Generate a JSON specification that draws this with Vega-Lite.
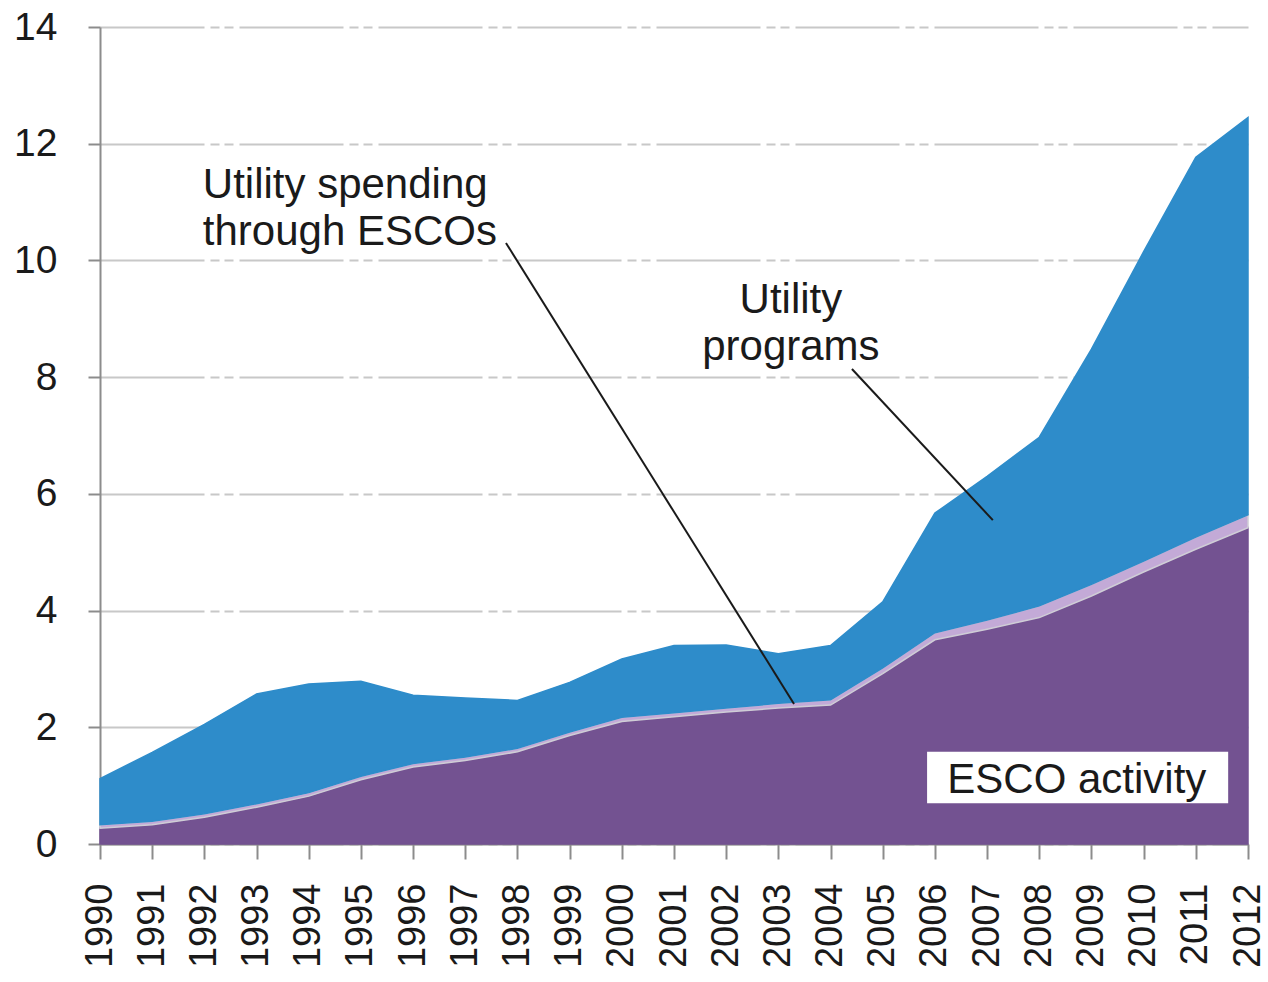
{
  "$schema": "https://vega.github.io/schema/vega-lite/v6.json",
  "width": 1148,
  "height": 817,
  "autosize": "none",
  "padding": {"left": 100, "top": 27, "right": 20, "bottom": 138},
  "background": "white",
  "config": {
    "view": {"stroke": null},
    "font": "Liberation Sans",
    "axis": {
      "labelFont": "Liberation Sans",
      "labelColor": "#1a1a1a",
      "tickColor": "#8c8c8c",
      "tickWidth": 2,
      "domainColor": "#8c8c8c",
      "domainWidth": 2,
      "labelFlush": false,
      "labelOverlap": false
    },
    "axisX": {"labelAngle": -90, "labelFontSize": 38, "tickSize": 15, "labelPadding": 24, "grid": false},
    "axisY": {"labelFontSize": 39, "tickSize": 12, "labelPadding": 31, "grid": true, "gridColor": "#c8c8c8", "gridWidth": 2, "gridDash": [104, 6, 9, 5, 9, 6]}
  },
  "datasets": {
    "series": [
      {"year": 1990, "series": "ESCO activity", "rank": 1, "value": 0.27},
      {"year": 1991, "series": "ESCO activity", "rank": 1, "value": 0.33},
      {"year": 1992, "series": "ESCO activity", "rank": 1, "value": 0.46},
      {"year": 1993, "series": "ESCO activity", "rank": 1, "value": 0.63},
      {"year": 1994, "series": "ESCO activity", "rank": 1, "value": 0.82},
      {"year": 1995, "series": "ESCO activity", "rank": 1, "value": 1.10},
      {"year": 1996, "series": "ESCO activity", "rank": 1, "value": 1.32},
      {"year": 1997, "series": "ESCO activity", "rank": 1, "value": 1.43},
      {"year": 1998, "series": "ESCO activity", "rank": 1, "value": 1.58},
      {"year": 1999, "series": "ESCO activity", "rank": 1, "value": 1.86},
      {"year": 2000, "series": "ESCO activity", "rank": 1, "value": 2.10},
      {"year": 2001, "series": "ESCO activity", "rank": 1, "value": 2.18},
      {"year": 2002, "series": "ESCO activity", "rank": 1, "value": 2.26},
      {"year": 2003, "series": "ESCO activity", "rank": 1, "value": 2.33},
      {"year": 2004, "series": "ESCO activity", "rank": 1, "value": 2.38},
      {"year": 2005, "series": "ESCO activity", "rank": 1, "value": 2.92},
      {"year": 2006, "series": "ESCO activity", "rank": 1, "value": 3.50},
      {"year": 2007, "series": "ESCO activity", "rank": 1, "value": 3.68},
      {"year": 2008, "series": "ESCO activity", "rank": 1, "value": 3.88},
      {"year": 2009, "series": "ESCO activity", "rank": 1, "value": 4.25},
      {"year": 2010, "series": "ESCO activity", "rank": 1, "value": 4.66},
      {"year": 2011, "series": "ESCO activity", "rank": 1, "value": 5.05},
      {"year": 2012, "series": "ESCO activity", "rank": 1, "value": 5.42},
      {"year": 1990, "series": "Utility spending through ESCOs", "rank": 2, "value": 0.06},
      {"year": 1991, "series": "Utility spending through ESCOs", "rank": 2, "value": 0.06},
      {"year": 1992, "series": "Utility spending through ESCOs", "rank": 2, "value": 0.06},
      {"year": 1993, "series": "Utility spending through ESCOs", "rank": 2, "value": 0.06},
      {"year": 1994, "series": "Utility spending through ESCOs", "rank": 2, "value": 0.06},
      {"year": 1995, "series": "Utility spending through ESCOs", "rank": 2, "value": 0.06},
      {"year": 1996, "series": "Utility spending through ESCOs", "rank": 2, "value": 0.06},
      {"year": 1997, "series": "Utility spending through ESCOs", "rank": 2, "value": 0.06},
      {"year": 1998, "series": "Utility spending through ESCOs", "rank": 2, "value": 0.06},
      {"year": 1999, "series": "Utility spending through ESCOs", "rank": 2, "value": 0.06},
      {"year": 2000, "series": "Utility spending through ESCOs", "rank": 2, "value": 0.07},
      {"year": 2001, "series": "Utility spending through ESCOs", "rank": 2, "value": 0.07},
      {"year": 2002, "series": "Utility spending through ESCOs", "rank": 2, "value": 0.07},
      {"year": 2003, "series": "Utility spending through ESCOs", "rank": 2, "value": 0.08},
      {"year": 2004, "series": "Utility spending through ESCOs", "rank": 2, "value": 0.09},
      {"year": 2005, "series": "Utility spending through ESCOs", "rank": 2, "value": 0.10},
      {"year": 2006, "series": "Utility spending through ESCOs", "rank": 2, "value": 0.12},
      {"year": 2007, "series": "Utility spending through ESCOs", "rank": 2, "value": 0.16},
      {"year": 2008, "series": "Utility spending through ESCOs", "rank": 2, "value": 0.20},
      {"year": 2009, "series": "Utility spending through ESCOs", "rank": 2, "value": 0.20},
      {"year": 2010, "series": "Utility spending through ESCOs", "rank": 2, "value": 0.19},
      {"year": 2011, "series": "Utility spending through ESCOs", "rank": 2, "value": 0.21},
      {"year": 2012, "series": "Utility spending through ESCOs", "rank": 2, "value": 0.22},
      {"year": 1990, "series": "Utility programs", "rank": 3, "value": 0.79},
      {"year": 1991, "series": "Utility programs", "rank": 3, "value": 1.18},
      {"year": 1992, "series": "Utility programs", "rank": 3, "value": 1.53},
      {"year": 1993, "series": "Utility programs", "rank": 3, "value": 1.88},
      {"year": 1994, "series": "Utility programs", "rank": 3, "value": 1.86},
      {"year": 1995, "series": "Utility programs", "rank": 3, "value": 1.63},
      {"year": 1996, "series": "Utility programs", "rank": 3, "value": 1.17},
      {"year": 1997, "series": "Utility programs", "rank": 3, "value": 1.01},
      {"year": 1998, "series": "Utility programs", "rank": 3, "value": 0.82},
      {"year": 1999, "series": "Utility programs", "rank": 3, "value": 0.85},
      {"year": 2000, "series": "Utility programs", "rank": 3, "value": 1.00},
      {"year": 2001, "series": "Utility programs", "rank": 3, "value": 1.15},
      {"year": 2002, "series": "Utility programs", "rank": 3, "value": 1.08},
      {"year": 2003, "series": "Utility programs", "rank": 3, "value": 0.85},
      {"year": 2004, "series": "Utility programs", "rank": 3, "value": 0.93},
      {"year": 2005, "series": "Utility programs", "rank": 3, "value": 1.13},
      {"year": 2006, "series": "Utility programs", "rank": 3, "value": 2.05},
      {"year": 2007, "series": "Utility programs", "rank": 3, "value": 2.46},
      {"year": 2008, "series": "Utility programs", "rank": 3, "value": 2.89},
      {"year": 2009, "series": "Utility programs", "rank": 3, "value": 4.03},
      {"year": 2010, "series": "Utility programs", "rank": 3, "value": 5.30},
      {"year": 2011, "series": "Utility programs", "rank": 3, "value": 6.51},
      {"year": 2012, "series": "Utility programs", "rank": 3, "value": 6.81}
    ],
    "leaders": [
      {"x1": 1997.78, "y1": 10.30, "x2": 2003.30, "y2": 2.40},
      {"x1": 2004.41, "y1": 8.14, "x2": 2007.11, "y2": 5.55}
    ],
    "box": [
      {"x1": 2005.85, "x2": 2011.62, "y1": 0.70, "y2": 1.58}
    ],
    "leftLabels": [
      {"text": "Utility spending", "yr": 1991.97, "v": 11.07},
      {"text": "through ESCOs", "yr": 1991.97, "v": 10.26}
    ],
    "centerLabels": [
      {"text": "Utility", "yr": 2003.24, "v": 9.10},
      {"text": "programs", "yr": 2003.24, "v": 8.29},
      {"text": "ESCO activity", "yr": 2008.72, "v": 0.87}
    ]
  },
  "layer": [
    {
      "data": {"name": "series"},
      "mark": {"type": "area", "strokeWidth": 1.5, "interpolate": "linear"},
      "encoding": {
        "x": {
          "field": "year", "type": "quantitative",
          "scale": {"domain": [1990, 2012], "nice": false, "zero": false},
          "axis": {"values": [1990,1991,1992,1993,1994,1995,1996,1997,1998,1999,2000,2001,2002,2003,2004,2005,2006,2007,2008,2009,2010,2011,2012], "format": "d"},
          "title": null
        },
        "y": {
          "field": "value", "type": "quantitative", "stack": "zero",
          "scale": {"domain": [0, 14], "nice": false},
          "axis": {"values": [0, 2, 4, 6, 8, 10, 12, 14], "format": "d"},
          "title": null
        },
        "fill": {
          "field": "series", "type": "nominal",
          "scale": {"domain": ["ESCO activity", "Utility spending through ESCOs", "Utility programs"], "range": ["#735291", "#c3aad7", "#2e8cca"]},
          "legend": null
        },
        "stroke": {
          "field": "series", "type": "nominal",
          "scale": {"domain": ["ESCO activity", "Utility spending through ESCOs", "Utility programs"], "range": ["#735291", "#cfcdd6", "#2e8cca"]},
          "legend": null
        },
        "order": {"field": "rank", "type": "quantitative"}
      }
    },
    {
      "data": {"name": "leaders"},
      "mark": {"type": "rule", "color": "#1a1a1a", "strokeWidth": 2},
      "encoding": {
        "x": {"field": "x1", "type": "quantitative", "title": null, "scale": {"domain": [1990, 2012], "nice": false, "zero": false}},
        "y": {"field": "y1", "type": "quantitative", "title": null, "scale": {"domain": [0, 14], "nice": false}},
        "x2": {"field": "x2"},
        "y2": {"field": "y2"}
      }
    },
    {
      "data": {"name": "box"},
      "mark": {"type": "rect", "fill": "white"},
      "encoding": {
        "x": {"field": "x1", "type": "quantitative", "title": null, "scale": {"domain": [1990, 2012], "nice": false, "zero": false}},
        "x2": {"field": "x2"},
        "y": {"field": "y1", "type": "quantitative", "title": null, "scale": {"domain": [0, 14], "nice": false}},
        "y2": {"field": "y2"}
      }
    },
    {
      "data": {"name": "leftLabels"},
      "mark": {"type": "text", "align": "left", "baseline": "alphabetic", "fontSize": 42, "font": "Liberation Sans", "color": "#1a1a1a"},
      "encoding": {
        "x": {"field": "yr", "type": "quantitative", "title": null, "scale": {"domain": [1990, 2012], "nice": false, "zero": false}},
        "y": {"field": "v", "type": "quantitative", "title": null, "scale": {"domain": [0, 14], "nice": false}},
        "text": {"field": "text"}
      }
    },
    {
      "data": {"name": "centerLabels"},
      "mark": {"type": "text", "align": "center", "baseline": "alphabetic", "fontSize": 42, "font": "Liberation Sans", "color": "#1a1a1a"},
      "encoding": {
        "x": {"field": "yr", "type": "quantitative", "title": null, "scale": {"domain": [1990, 2012], "nice": false, "zero": false}},
        "y": {"field": "v", "type": "quantitative", "title": null, "scale": {"domain": [0, 14], "nice": false}},
        "text": {"field": "text"}
      }
    }
  ]
}
